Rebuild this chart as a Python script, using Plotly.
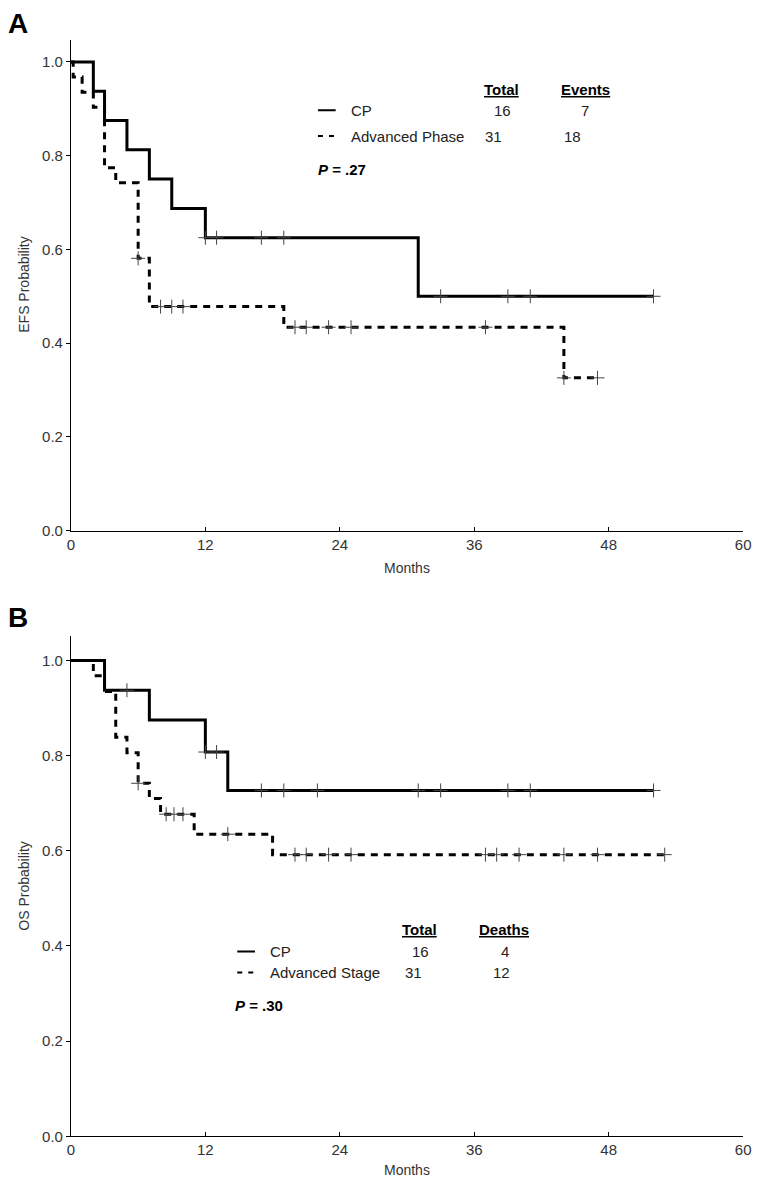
import numpy as np
import plotly.graph_objects as go

# ---------------- data ----------------
# Panel A: EFS
efs_cp_time = [0, 2, 3, 5, 7, 9, 12, 31, 52]
efs_cp_surv = [1.0, 0.9375, 0.875, 0.8125, 0.75, 0.6875, 0.625, 0.5, 0.5]
efs_cp_cens = [12, 13, 17, 19, 33, 39, 41, 52]

efs_ap_time = [0, 0.2, 1, 2, 3, 4, 6, 7, 19, 44, 47]
efs_ap_surv = [1.0, 0.968, 0.935, 0.903, 0.774, 0.742, 0.581, 0.478, 0.434, 0.326, 0.326]
efs_ap_cens = [6, 8, 9, 10, 20, 21, 23, 25, 37, 44, 47]

# Panel B: OS
os_cp_time = [0, 3, 7, 12, 14, 52]
os_cp_surv = [1.0, 0.9375, 0.875, 0.8077, 0.7269, 0.7269]
os_cp_cens = [5, 12, 13, 17, 19, 22, 31, 33, 39, 41, 52]

os_ap_time = [0, 2, 3, 4, 5, 6, 7, 8, 11, 18, 53]
os_ap_surv = [1.0, 0.968, 0.935, 0.839, 0.806, 0.742, 0.710, 0.677, 0.635, 0.592, 0.592]
os_ap_cens = [6, 8.5, 9.2, 10, 14, 20, 21, 23, 25, 37, 38, 40, 44, 47, 53]

x_ticks = [0, 12, 24, 36, 48, 60]
y_ticks = [0.0, 0.2, 0.4, 0.6, 0.8, 1.0]

efs_groups = ["CP", "Advanced Phase"]
efs_total = [16, 31]
efs_events = [7, 18]
efs_p = ".27"

os_groups = ["CP", "Advanced Stage"]
os_total = [16, 31]
os_deaths = [4, 12]
os_p = ".30"

# ---------------- figure ----------------
W, H = 760, 1190
FONT = "Liberation Sans, Arial, sans-serif"
fig = go.Figure()


def step_at(times, surv, c):
    idx = np.searchsorted(np.array(times, dtype=float), c, side="right") - 1
    return np.array(surv)[idx]


def add_curve(times, surv, cens, dash, xa, ya):
    fig.add_trace(go.Scatter(
        x=times, y=surv, mode="lines", line_shape="hv",
        line=dict(color="black", width=3, dash=dash),
        xaxis=xa, yaxis=ya, showlegend=False, hoverinfo="skip"))
    fig.add_trace(go.Scatter(
        x=cens, y=step_at(times, surv, np.array(cens, dtype=float)),
        mode="markers",
        marker=dict(symbol="cross-thin", size=10, color="#444",
                    line=dict(width=1, color="#444")),
        xaxis=xa, yaxis=ya, showlegend=False, hoverinfo="skip"))


DASH = "7px,6px"
add_curve(efs_cp_time, efs_cp_surv, efs_cp_cens, "solid", "x", "y")
add_curve(efs_ap_time, efs_ap_surv, efs_ap_cens, DASH, "x", "y")
add_curve(os_cp_time, os_cp_surv, os_cp_cens, "solid", "x2", "y2")
add_curve(os_ap_time, os_ap_surv, os_ap_cens, DASH, "x2", "y2")

x_dom = [68 / W, 751 / W]
yA_dom = [1 - 534.3 / H, 1 - 40 / H]
yB_dom = [1 - 1144 / H, 1 - 640 / H]
yA_top = (534.3 - 40) / 472
yB_top = (1144 - 640) / 479

common_x = dict(range=[0, 60], tickvals=x_ticks, ticks="inside", ticklen=4,
                tickcolor="black", showline=True, linecolor="black", linewidth=1,
                showgrid=False, zeroline=False, ticklabeloverflow="allow",
                tickfont=dict(family=FONT, size=15, color="#333"))
common_y = dict(tickvals=y_ticks, ticktext=[f"{v:.1f}" for v in y_ticks],
                ticks="outside", ticklen=4, tickcolor="black", showline=True,
                linecolor="black", linewidth=1, showgrid=False, zeroline=False,
                tickfont=dict(family=FONT, size=15, color="#333"))

fig.update_layout(
    width=W, height=H, margin=dict(l=0, r=0, t=0, b=0),
    plot_bgcolor="white", paper_bgcolor="white",
    xaxis=dict(domain=x_dom, anchor="y", **common_x),
    yaxis=dict(domain=yA_dom, range=[0, yA_top], anchor="x", **common_y),
    xaxis2=dict(domain=x_dom, anchor="y2", **common_x),
    yaxis2=dict(domain=yB_dom, range=[0, yB_top], anchor="x2", **common_y),
)


def px_x(p):
    return (p - 68) / ((751 - 68) / 60)


def ann(text, x, y, xref, yref, size=15, xanchor="center", color="#222", angle=0):
    fig.add_annotation(text=text, x=x, y=y, xref=xref, yref=yref, showarrow=False,
                       xanchor=xanchor, yanchor="middle", textangle=angle,
                       font=dict(family=FONT, size=size, color=color))


# panel letters
ann("<b>A</b>", 2 / W, 1 - 24 / H, "paper", "paper", size=28, xanchor="left", color="black")
ann("<b>B</b>", 2 / W, 1 - 622 / H, "paper", "paper", size=28, xanchor="left", color="black")

# axis titles
ann("Months", (68 + 751) / 2 / W, 1 - 572 / H, "paper", "paper", size=14, color="#333")
ann("Months", (68 + 751) / 2 / W, 1 - 1178 / H, "paper", "paper", size=14, color="#333")
ann("EFS Probability", 20 / W, 1 - 287 / H, "paper", "paper", size=14, color="#333", angle=-90)
ann("OS Probability", 20 / W, 1 - 892 / H, "paper", "paper", size=14, color="#333", angle=-90)


def legend_block(xr, yr, ypx, y_of, line_x, text_x, col1_x, col2_x, groups, tot, ev,
                 header2, pval, p_x):
    hy, r1, r2, py = [y_of(v) for v in ypx]
    ann("<b><u>Total</u></b>", px_x(col1_x[0]), hy, xr, yr, color="black")
    ann(f"<b><u>{header2}</u></b>", px_x(col2_x[0]), hy, xr, yr, color="black")
    for i, ry in enumerate([r1, r2]):
        ann(groups[i], px_x(text_x), ry, xr, yr, xanchor="left")
        ann(str(tot[i]), px_x(col1_x[i + 1]), ry, xr, yr)
        ann(str(ev[i]), px_x(col2_x[i + 1]), ry, xr, yr)
    # legend samples
    fig.add_shape(type="line", xref=xr, yref=yr, x0=px_x(line_x[0]), x1=px_x(line_x[1]),
                  y0=r1, y1=r1, line=dict(color="black", width=2))
    fig.add_shape(type="line", xref=xr, yref=yr, x0=px_x(line_x[0]), x1=px_x(line_x[1]),
                  y0=r2, y1=r2, line=dict(color="black", width=2, dash="5px,6px"))
    ann(f"<b><i>P</i> = {pval}</b>", px_x(p_x), py, xr, yr, xanchor="left", color="black")


legend_block("x", "y", [90, 111, 137, 171], lambda p: (534.3 - p) / 472,
             (319, 337), 351, (505, 507, 497), (591, 590, 578),
             efs_groups, efs_total, efs_events, "Events", efs_p, 317)
legend_block("x2", "y2", [936, 958, 979, 1012], lambda p: (1144 - p) / 479,
             (237, 255), 268, (422, 423, 416), (508, 509, 505),
             os_groups, os_total, os_deaths, "Deaths", os_p, 233)

fig.write_html("out.html",
               config={"displayModeBar": False, "staticPlot": True},
               post_script="document.body.style.margin='0';document.body.style.padding='0';")
